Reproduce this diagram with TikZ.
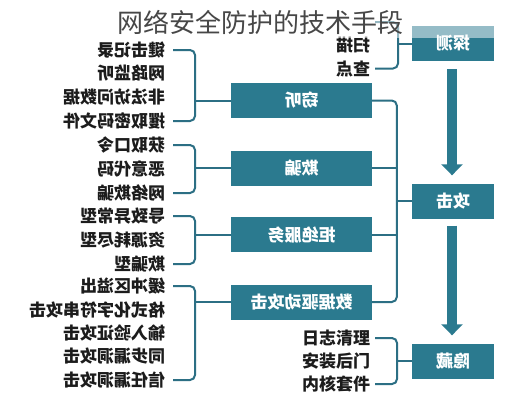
\documentclass[tikz,border=0pt]{standalone}
\usepackage{fontspec}
\usepackage{graphicx}
\newfontfamily\cjk{Noto Sans CJK SC}
\usetikzlibrary{arrows.meta,calc}
\definecolor{teal1}{HTML}{2B7A8F}
\definecolor{line1}{HTML}{2C6F84}
\definecolor{ink}{HTML}{1C1C1C}
\begin{document}
\begin{tikzpicture}[x=1pt,y=-1pt,
  box/.style={fill=teal1, text=white, font=\cjk\bfseries\fontsize{17}{17}\selectfont,
    minimum width=141pt, minimum height=35pt, inner sep=0pt},
  rbox/.style={box, minimum width=82pt, minimum height=35pt},
  litem/.style={font=\cjk\bfseries\fontsize{17}{17}\selectfont, text=ink, inner sep=0pt,
    outer xsep=8pt, anchor=east},
  ritem/.style={litem, outer xsep=5pt},
  conn/.style={draw=line1, line width=2pt, rounded corners=5pt},
  bigarrow/.style={draw=teal1, line width=10pt, -{Triangle[width=21pt,length=11pt]}}]
\useasboundingbox[fill=white] (0,0) rectangle (518,400);

% right column
\node[rbox] (tance) at (453,43.5) {\reflectbox{探测}};
\node[rbox] (gongji) at (453,201) {\reflectbox{攻击}};
\node[rbox] (yincang) at (453,361) {\reflectbox{隐藏}};

% middle boxes
\node[box] (qieting) at (301.5,100.5) {\reflectbox{窃听}};
\node[box] (qipian) at (301.5,168) {\reflectbox{欺骗}};
\node[box] (jujue) at (301.5,234.5) {\reflectbox{拒绝服务}};
\node[box] (sjqd) at (301.5,302) {\reflectbox{数据驱动攻击}};

% arrows
\draw[bigarrow] ($(tance.south)+(-1,8)$) -- ($(gongji.north)+(-1,-8)$);
\draw[bigarrow] ($(gongji.south)+(-1,7)$) -- ($(yincang.north)+(-1,-8)$);

% bus to attack
\coordinate (bus) at ($(gongji.west)+(-15,0)$);
\draw[conn] (qieting.east) -| (bus) |- (sjqd.east);
\draw[conn] (qipian.east) -- (qipian.east -| bus);
\draw[conn] (jujue.east) -- (jujue.east -| bus);
\draw[conn] (bus) -- (gongji.west);

% group 1
\node[litem] (a1) at (173,50) {\reflectbox{键击记录}};
\node[litem] (a2) at (173,73.5) {\reflectbox{网路监听}};
\node[litem] (a3) at (173,97) {\reflectbox{非法访问数据}};
\node[litem] (a4) at (173,121) {\reflectbox{攫取密码文件}};
\draw[conn] (a1.east) -- ++(22,0) |- (a4.east);
\draw[conn] (qieting.west) -- ++(-36,0);

% group 2
\node[litem] (b1) at (173,145) {\reflectbox{获取口令}};
\node[litem] (b2) at (173,169) {\reflectbox{恶意代码}};
\node[litem] (b3) at (173,193) {\reflectbox{网络欺骗}};
\draw[conn] (b1.east) -- ++(22,0) |- (b3.east);
\draw[conn] (qipian.west) -- ++(-36,0);

% group 3
\node[litem] (c1) at (173,216) {\reflectbox{导致异常型}};
\node[litem] (c2) at (173,240) {\reflectbox{资源耗尽型}};
\node[litem] (c3) at (173,264) {\reflectbox{欺骗型}};
\draw[conn] (c1.east) -- ++(22,0) |- (c3.east);
\draw[conn] (jujue.west) -- ++(-36,0);

% group 4
\node[litem] (d1) at (173,286) {\reflectbox{缓冲区溢出}};
\node[litem] (d2) at (173,309.5) {\reflectbox{格式化字符串攻击}};
\node[litem] (d3) at (173,333) {\reflectbox{输入验证攻击}};
\node[litem] (d4) at (173,356.5) {\reflectbox{同步漏洞攻击}};
\node[litem] (d5) at (173,380) {\reflectbox{信任漏洞攻击}};
\draw[conn] (d1.east) -- ++(22,0) |- (d5.east);
\draw[conn] (sjqd.west) -- ++(-36,0);

% probe group
\coordinate (e0) at (375,22);
\node[ritem] (e1) at (375,45.5) {\reflectbox{扫描}};
\node[ritem] (e2) at (375,68.5) {\reflectbox{查点}};
\draw[conn] (e0) -- ++(23,0) |- (e2.east);
\draw[conn] (tance.west) -- ++(-14,0);

% hide group
\node[ritem] (f1) at (375,338) {日志清理};
\node[ritem] (f2) at (375,361) {安装后门};
\node[ritem] (f3) at (375,384) {内核套件};
\draw[conn] (f1.east) -- ++(22,0) |- (f3.east);
\draw[conn] (yincang.west) -- ++(-15,0);

% faded top band and title
\fill[white, opacity=0.5] (0,0) rectangle (518,38);
\node[font=\cjk\fontsize{26}{26}\selectfont, text=black!72, inner sep=0pt] (title) at (260,22) {网络安全防护的技术手段};
\end{tikzpicture}
\end{document}
